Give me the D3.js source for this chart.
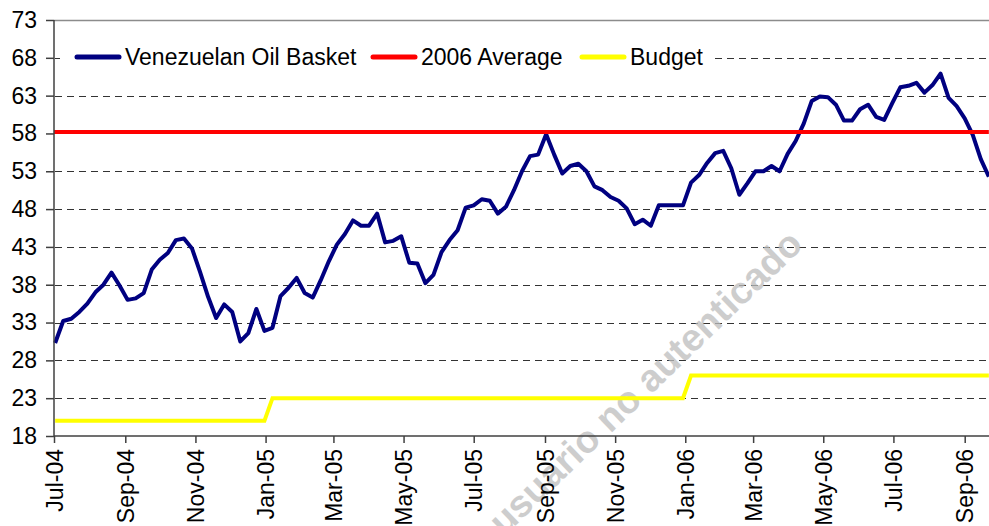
<!DOCTYPE html>
<html lang="en">
  <head>
    <meta charset="utf-8">
    <title>Venezuelan Oil Basket</title>
    <script src="https://d3js.org/d3.v7.min.js"></script>
    <style>
      body {
        margin: 0;
        background: #fff;
      }
      svg text {
        font-family: "Liberation Sans", Arial, sans-serif;
        font-size: 23px;
        fill: #000;
      }
      .axis path, .axis line {
        stroke: #404040;
        stroke-width: 1.5px;
      }
      .grid line {
        stroke: #333;
        stroke-dasharray: 7,5;
      }
      .watermark {
        font-weight: bold;
        font-size: 38px;
        fill: #bdbdbd;
        opacity: 0.75;
      }
    </style>
  </head>
  <body>
    <svg id="chart" width="989" height="526"></svg>

    <script>

    // data *****************************

    // weekly series, first week
    const firstWeek = "2004-07-02"

    const basket = [
      30.3, 33.2, 33.5, 34.4, 35.5, 37.0, 38.0, 39.6, 37.9, 36.0,
      36.2, 36.9, 40.0, 41.3, 42.2, 43.9, 44.1, 42.8, 39.7, 36.4,
      33.6, 35.4, 34.4, 30.5, 31.6, 34.8, 31.9, 32.3, 36.5, 37.6,
      38.9, 36.9, 36.3, 38.6, 41.1, 43.3, 44.7, 46.5, 45.8, 45.8,
      47.4, 43.6, 43.8, 44.4, 40.9, 40.8, 38.2, 39.3, 42.3, 43.9,
      45.2, 48.2, 48.5, 49.3, 49.1, 47.4, 48.3, 50.5, 53.0, 55.0,
      55.2, 57.9, 55.2, 52.7, 53.7, 54.0, 53.0, 51.0, 50.5, 49.6,
      49.1, 48.1, 46.0, 46.6, 45.8, 48.5, 48.5, 48.5, 48.5, 51.5,
      52.5, 54.1, 55.4, 55.7, 53.4, 49.9, 51.4, 53.0, 53.0, 53.7,
      53.0, 55.3, 57.0, 59.3, 62.3, 62.9, 62.8, 61.8, 59.7, 59.7,
      61.2, 61.8, 60.2, 59.8, 62.0, 64.1, 64.3, 64.7, 63.4, 64.4,
      65.9, 62.7, 61.6, 60.0, 57.8, 54.6, 52.3
    ]

    const average2006 = 58.2

    // budget steps: level and the week it starts
    const budgetLevels = [20, 23, 26]
    const budgetFromWeek = [0, 27, 79]

    const seriesNames = ["Venezuelan Oil Basket", "2006 Average", "Budget"]
    const seriesColors = ["#000080", "#ff0000", "#ffff00"]

    const yTicks = [18, 23, 28, 33, 38, 43, 48, 53, 58, 63, 68, 73]
    const xTickLabels = ["Jul-04", "Sep-04", "Nov-04", "Jan-05", "Mar-05", "May-05", "Jul-05",
                         "Sep-05", "Nov-05", "Jan-06", "Mar-06", "May-06", "Jul-06", "Sep-06"]

    // setup *****************************

    const W = 989, H = 526
    const plotLeft = 54, plotTop = 20, plotBottom = 436
    const svg = d3.select("#chart")

    const parseDay = d3.timeParse("%Y-%m-%d")
    const parseTick = d3.timeParse("%b-%y")
    const start = parseDay(firstWeek)

    const weeks = basket.map((v, i) => d3.timeDay.offset(start, 7 * i))
    const budget = weeks.map((d, i) => {
      let lvl = budgetLevels[0]
      budgetFromWeek.forEach((w, k) => { if (i >= w) lvl = budgetLevels[k] })
      return lvl
    })

    const tickDates = xTickLabels.map(parseTick)

    // date scale, Jul-04 to Sep-06 measured on the axis
    const x = d3.scaleTime()
      .domain([tickDates[0], tickDates[tickDates.length - 1]])
      .range([plotLeft, 964.7])

    const y = d3.scaleLinear()
      .domain([18, 73])
      .range([plotBottom, plotTop])

    // grid *****************************

    svg.append("g")
      .attr("class", "grid")
      .selectAll("line")
      .data(yTicks.slice(1, -1))
      .join("line")
        .attr("x1", plotLeft + 1)
        .attr("x2", W)
        .attr("y1", d => Math.round(y(d)) + 0.5)
        .attr("y2", d => Math.round(y(d)) + 0.5)

    // top border
    svg.append("line")
      .attr("x1", plotLeft).attr("x2", W)
      .attr("y1", y(73) + 0.5).attr("y2", y(73) + 0.5)
      .attr("stroke", "#8c8c8c")
      .attr("stroke-width", 1.5)

    // watermark
    svg.append("text")
      .attr("class", "watermark")
      .attr("text-anchor", "middle")
      .attr("transform", "translate(645,382) rotate(-44)")
      .attr("dy", "0.35em")
      .text("usuario no autenticado")

    // lines *****************************

    const line = d3.line()
      .x(d => x(d[0]))
      .y(d => y(d[1]))

    svg.append("path")
      .datum(weeks.map((d, i) => [d, basket[i]]))
      .attr("d", line)
      .attr("fill", "none")
      .attr("stroke", seriesColors[0])
      .attr("stroke-width", 4)
      .attr("stroke-linejoin", "round")

    svg.append("path")
      .datum([[tickDates[0], average2006], [weeks[weeks.length - 1], average2006]])
      .attr("d", line)
      .attr("fill", "none")
      .attr("stroke", seriesColors[1])
      .attr("stroke-width", 4)

    svg.append("path")
      .datum(weeks.map((d, i) => [d, budget[i]]))
      .attr("d", line)
      .attr("fill", "none")
      .attr("stroke", seriesColors[2])
      .attr("stroke-width", 4)

    // axes *****************************

    const yAxis = svg.append("g")
      .attr("class", "axis")
      .attr("transform", `translate(${plotLeft},0)`)
      .call(d3.axisLeft(y).tickValues(yTicks).tickSize(8).tickPadding(9).tickSizeOuter(0))
    yAxis.select(".domain").attr("d", `M0,${plotTop}V${plotBottom}`)
    yAxis.attr("font-size", null).attr("font-family", null)

    const xAxis = svg.append("g")
      .attr("class", "axis")
      .attr("transform", `translate(0,${plotBottom})`)
      .call(d3.axisBottom(x).tickValues(tickDates).tickSize(7).tickSizeOuter(0)
        .tickFormat(d3.timeFormat("%b-%y")))
    xAxis.select(".domain").attr("d", `M${plotLeft},0H${W}`)
    xAxis.attr("font-size", null).attr("font-family", null)
    xAxis.selectAll("text")
      .attr("transform", "rotate(-90)")
      .attr("text-anchor", "end")
      .attr("x", -13)
      .attr("y", 0)
      .attr("dy", "0.35em")

    // legend *****************************

    const legend = svg.append("g")

    legend.append("rect")
      .attr("x", 60).attr("y", 38)
      .attr("width", 652).attr("height", 40)
      .attr("fill", "#fff")

    const legendX = [77, 373, 582]

    const item = legend.selectAll("g.item")
      .data(seriesNames)
      .join("g")
        .attr("class", "item")
        .attr("transform", (d, i) => `translate(${legendX[i]},57)`)

    item.append("line")
      .attr("x1", 0).attr("x2", 42)
      .attr("stroke", (d, i) => seriesColors[i])
      .attr("stroke-width", 5)
      .attr("stroke-linecap", "round")

    item.append("text")
      .attr("x", 48)
      .attr("dy", "0.35em")
      .text(d => d)

    </script>
  </body>
</html>
